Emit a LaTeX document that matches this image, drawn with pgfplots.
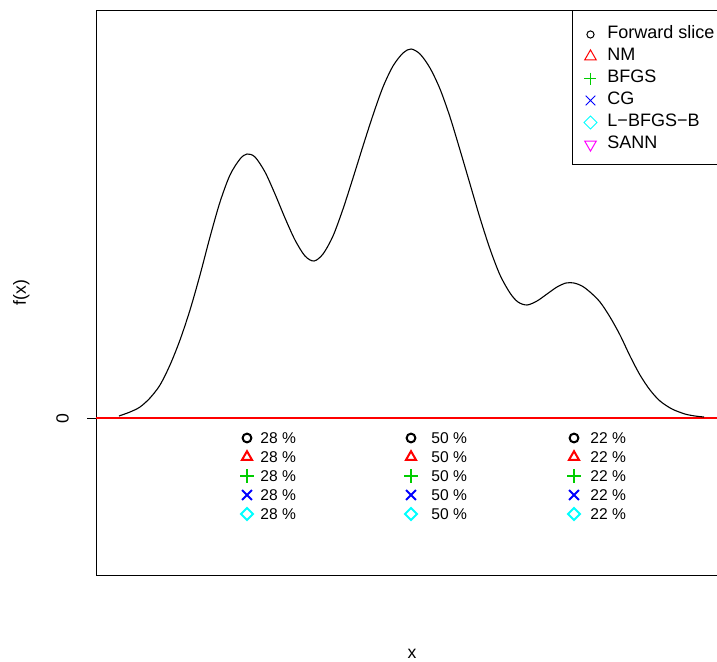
\documentclass[border=0pt]{standalone}
\usepackage{pgfplots}
\pgfplotsset{compat=1.18}
\usepackage{fontspec}
\setmainfont{Liberation Sans}
\definecolor{rred}{HTML}{FF0000}
\definecolor{rgreen}{HTML}{00CD00}
\definecolor{rblue}{HTML}{0000FF}
\definecolor{rcyan}{HTML}{00FFFF}
\definecolor{rmag}{HTML}{FF00FF}
\begin{document}
\begin{tikzpicture}
\useasboundingbox (0,0) rectangle (358.5pt,330.5pt);
\clip (0,0) rectangle (358.5pt,330.5pt);
\begin{axis}[
  at={(48pt,43pt)}, anchor=south west,
  scale only axis, width=316pt, height=282.5pt,
  xmin=96, xmax=728, ymin=-157, ymax=408,
  xtick=\empty, ytick={0}, yticklabels={\empty},
  tick align=outside, major tick length=4.5pt,
  tick style={black, line width=0.5pt},
  axis line style={black, line width=0.5pt},
  clip=false,
  legend style={at={(1,1)}, anchor=north east, draw=black, line width=0.5pt,
    inner xsep=5.5pt, inner ysep=5.5pt, font=\fontsize{9}{10}\selectfont,
    row sep=0pt, nodes={inner sep=1pt, text height=7.5pt, text depth=1.5pt}},
  legend cell align=left,
  legend image code/.code={\path[draw=none] (0pt,0pt) rectangle (10.5pt,0pt); \draw[#1] plot coordinates {(3pt,-1pt)};},
]
\addplot[rred, line width=0.6pt, forget plot] coordinates {(96,0) (728,0)};
\addplot[black, line width=0.55pt, smooth, forget plot] coordinates {
(119,2) (130,6) (140,11) (150,20) (160,33) (170,53) (180,78) (190,108) (200,143)
(210,181) (220,216) (230,243) (240,259) (247,264) (255,261) (265,246) (275,224)
(285,200) (295,178) (305,162) (314,157) (323,164) (333,182) (343,209) (353,240)
(363,272) (373,303) (383,331) (393,352) (403,365) (411,369) (420,364) (430,350)
(440,329) (450,301) (460,268) (470,234) (480,200) (490,169) (500,143) (510,125)
(518,116) (527,113) (537,117) (547,124) (557,131) (566,135) (574,135) (582,132)
(590,126) (600,116) (610,101) (620,83) (630,62) (640,43) (650,28) (660,17)
(672,9) (685,4) (695,2) (704,1)};
% annotation marks
\addplot[forget plot, only marks, black, mark=o, mark size=2.2pt, line width=1pt] coordinates {(247,-20) (411,-20) (574,-20)};
\addplot[forget plot, only marks, rred, mark=triangle, mark size=2.9pt, line width=1pt] coordinates {(247,-39) (411,-39) (574,-39)};
\addplot[forget plot, only marks, rgreen, mark=+, mark size=3.5pt, line width=1pt] coordinates {(247,-58) (411,-58) (574,-58)};
\addplot[forget plot, only marks, rblue, mark=x, mark size=3.5pt, line width=1pt] coordinates {(247,-77) (411,-77) (574,-77)};
\addplot[forget plot, only marks, rcyan, mark=square, mark options={rotate=45}, mark size=2.1pt, line width=1pt] coordinates {(247,-96) (411,-96) (574,-96)};
% annotation texts
\addplot[forget plot, only marks, mark=none, point meta=explicit symbolic, nodes near coords,
  nodes near coords style={anchor=west, inner sep=0pt, font=\fontsize{7.8}{9}\selectfont, text=black}]
  coordinates {
  (260,-20) [28 \%] (260,-39) [28 \%] (260,-58) [28 \%] (260,-77) [28 \%] (260,-96) [28 \%]
  (431,-20) [50 \%] (431,-39) [50 \%] (431,-58) [50 \%] (431,-77) [50 \%] (431,-96) [50 \%]
  (590,-20) [22 \%] (590,-39) [22 \%] (590,-58) [22 \%] (590,-77) [22 \%] (590,-96) [22 \%]};
% legend
\addlegendimage{only marks, mark=o, mark size=1.8pt, black, line width=0.5pt}
\addlegendentry{Forward slice}
\addlegendimage{only marks, mark=triangle, mark size=3.3pt, rred, line width=0.5pt}
\addlegendentry{NM}
\addlegendimage{only marks, mark=+, mark size=3pt, rgreen, line width=0.5pt}
\addlegendentry{BFGS}
\addlegendimage{only marks, mark=x, mark size=3.4pt, rblue, line width=0.5pt}
\addlegendentry{CG}
\addlegendimage{only marks, mark=square, mark options={rotate=45}, mark size=2.3pt, rcyan, line width=0.5pt}
\addlegendentry{L−BFGS−B}
\addlegendimage{only marks, mark=triangle, mark options={rotate=180}, mark size=3.3pt, rmag, line width=0.5pt}
\addlegendentry{SANN}
\end{axis}
\node[rotate=90, anchor=center, inner sep=0pt, font=\fontsize{8.8}{10}\selectfont] at (10.7pt,184.25pt) {f(x)};
\node[rotate=90, anchor=center, inner sep=0pt, font=\fontsize{8.8}{10}\selectfont] at (31.3pt,121pt) {0};
\node[anchor=base, inner sep=0pt, font=\fontsize{8.8}{10}\selectfont] at (206pt,1.3pt) {x};
\end{tikzpicture}
\end{document}
